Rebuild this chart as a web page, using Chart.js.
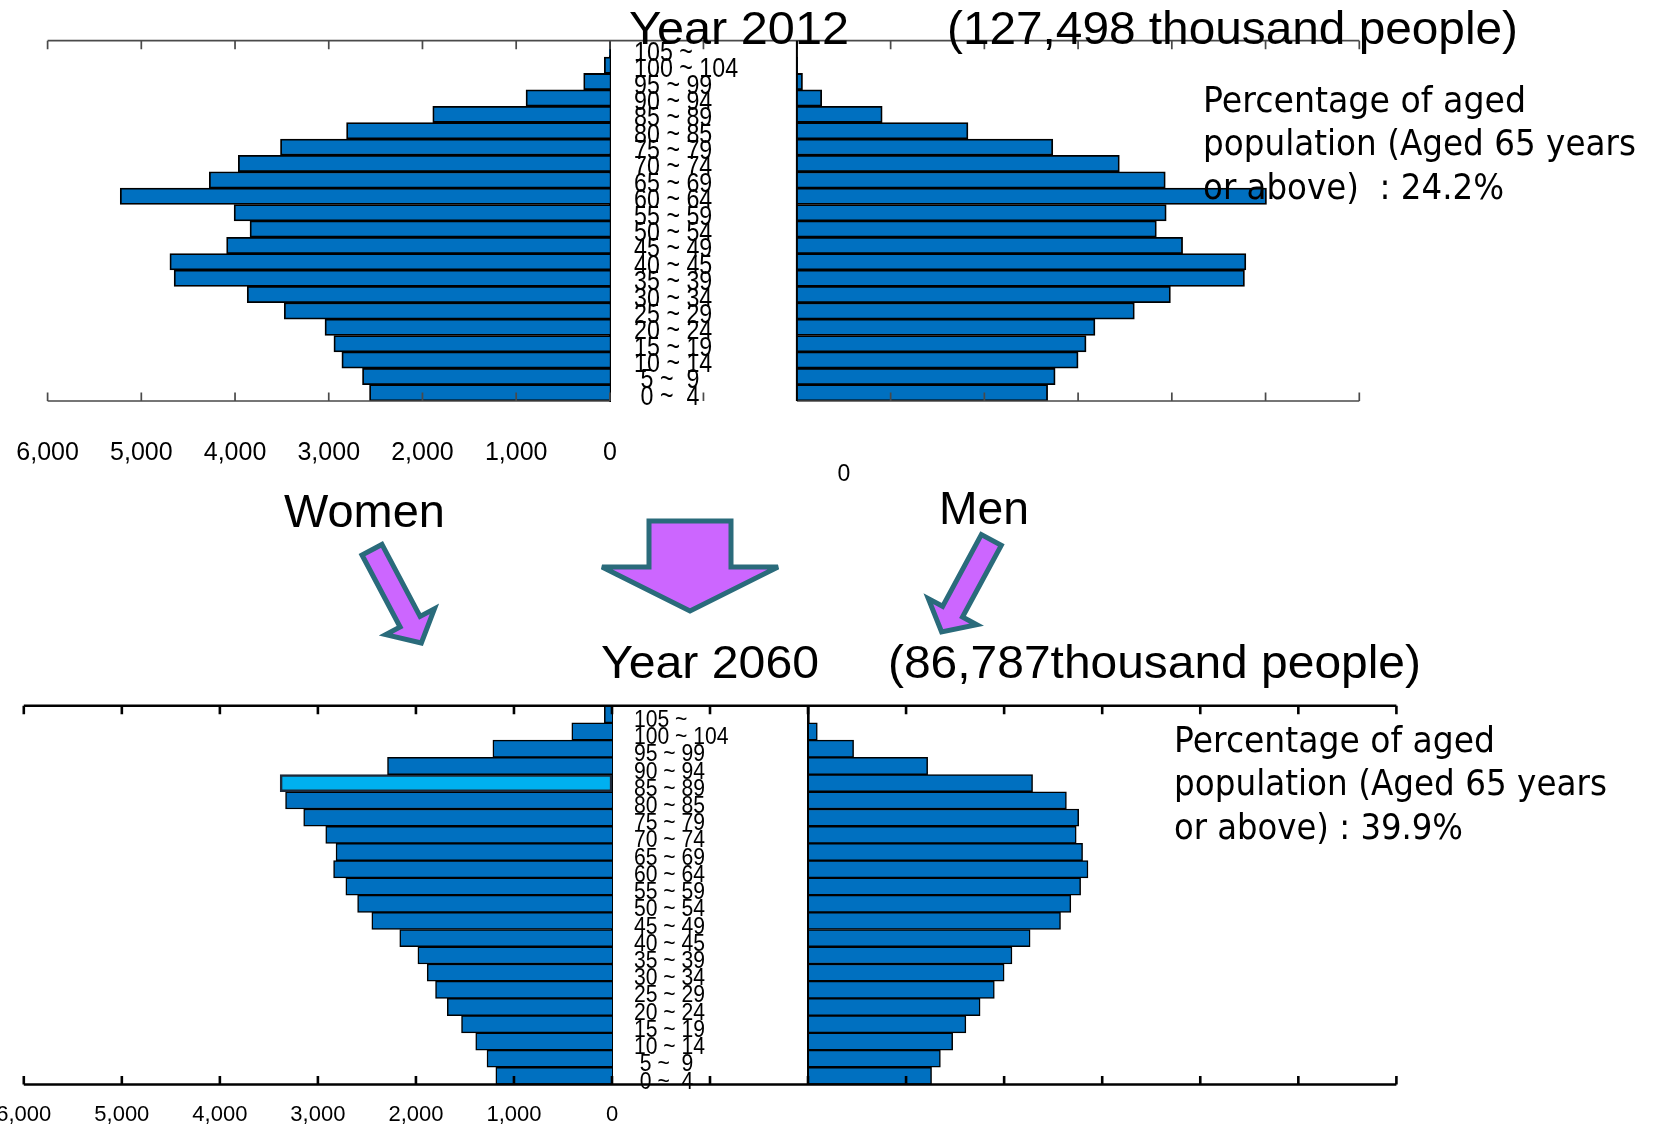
<!DOCTYPE html>
<html>
<head>
<meta charset="utf-8">
<script src="https://cdn.jsdelivr.net/npm/chart.js@4.4.1/dist/chart.umd.min.js"></script>
<style>
  html, body { margin: 0; padding: 0; background: #fff; width: 1662px; height: 1131px; overflow: hidden; }
  canvas { position: absolute; }
  #overlay { position: absolute; left: 0; top: 0; z-index: 5; pointer-events: none; }
  #overlay text { white-space: pre; }
</style>
</head>
<body>
<canvas id="w2012" width="797" height="490" style="left:0px;top:0px"></canvas>
<canvas id="m2012" width="620" height="490" style="left:780px;top:0px"></canvas>
<canvas id="w2060" width="808" height="451" style="left:0px;top:680px"></canvas>
<canvas id="m2060" width="620" height="451" style="left:790px;top:680px"></canvas>

<svg id="overlay" width="1662" height="1131" xmlns="http://www.w3.org/2000/svg">
  <g font-family="'Liberation Sans', Arial, sans-serif" font-size="47" fill="#000">
    <text x="629" y="44" textLength="220" lengthAdjust="spacingAndGlyphs">Year 2012</text>
    <text x="947" y="44" textLength="571" lengthAdjust="spacingAndGlyphs">(127,498 thousand people)</text>
    <text x="284" y="527" textLength="161" lengthAdjust="spacingAndGlyphs">Women</text>
    <text x="939" y="524" textLength="90" lengthAdjust="spacingAndGlyphs">Men</text>
    <text x="601" y="678" textLength="218" lengthAdjust="spacingAndGlyphs">Year 2060</text>
    <text x="888" y="678" textLength="533" lengthAdjust="spacingAndGlyphs">(86,787thousand people)</text>
  </g>
  <g font-family="'DejaVu Sans', sans-serif" font-size="35" fill="#000">
    <text x="1203" y="112" textLength="323" lengthAdjust="spacingAndGlyphs">Percentage of aged</text>
    <text x="1203" y="155" textLength="433" lengthAdjust="spacingAndGlyphs">population (Aged 65 years</text>
    <text x="1203" y="199" textLength="301" lengthAdjust="spacingAndGlyphs">or above)  : 24.2%</text>
    <text x="1174" y="752" textLength="321" lengthAdjust="spacingAndGlyphs">Percentage of aged</text>
    <text x="1174" y="795" textLength="433" lengthAdjust="spacingAndGlyphs">population (Aged 65 years</text>
    <text x="1174" y="839" textLength="289" lengthAdjust="spacingAndGlyphs">or above) : 39.9%</text>
  </g>
  <text x="844" y="481" font-family="'Liberation Sans', Arial, sans-serif" font-size="23" text-anchor="middle" fill="#000">0</text>

  <!-- arrows: big one between the two pyramids, small ones under the sex labels -->
  <g fill="#CC66FF" stroke="#2A6B7B" stroke-width="5" stroke-linejoin="miter">
    <polygon points="649,521 731,521 731,567 778,567 690,611 602,567 649,567"/>
    <polygon transform="translate(370.8,547.5) rotate(62.1)"
             points="2.5,-11.3 84,-11.3 84,-27.5 108,0 84,27.5 84,11.3 2.5,11.3"/>
    <polygon transform="translate(992.5,537.8) rotate(118.4)"
             points="2.5,-11.3 84,-11.3 84,-27.5 107,0 84,27.5 84,11.3 2.5,11.3"/>
  </g>
</svg>

<script>
// Age groups, youngest first (labels kept as printed on the chart)
const ageLabels = [' 0 ~  4', ' 5 ~  9', '10 ~ 14', '15 ~ 19', '20 ~ 24', '25 ~ 29',
  '30 ~ 34', '35 ~ 39', '40 ~ 45', '45 ~ 49', '50 ~ 54', '55 ~ 59', '60 ~ 64',
  '65 ~ 69', '70 ~ 74', '75 ~ 79', '80 ~ 85', '85 ~ 89', '90 ~ 94', '95 ~ 99',
  '100 ~ 104', '105 ~'];

// Population in thousands
const women2012 = [2565, 2640, 2860, 2945, 3040, 3475, 3870, 4650, 4695, 4090, 3840,
  4010, 5225, 4275, 3965, 3515, 2810, 1890, 895, 280, 60, 5];
const men2012 = [2675, 2755, 3000, 3085, 3180, 3600, 3985, 4775, 4790, 4115, 3835,
  3940, 5010, 3930, 3440, 2730, 1825, 910, 265, 60, 8, 1];
const women2060 = [1185, 1275, 1390, 1535, 1680, 1800, 1885, 1980, 2165, 2450, 2595,
  2715, 2840, 2815, 2920, 3145, 3330, 3385, 2290, 1215, 410, 78];
const men2060 = [1260, 1350, 1475, 1610, 1755, 1900, 2000, 2080, 2265, 2575, 2680,
  2780, 2855, 2800, 2735, 2760, 2635, 2290, 1220, 465, 95, 15];

// Value axis ticks
const tickValues = [0, 1000, 2000, 3000, 4000, 5000, 6000];
const tickLabels = ['0', '1,000', '2,000', '3,000', '4,000', '5,000', '6,000'];

const highlightGroup = '85 ~ 89';

const FONT = "'Liberation Sans', Arial, sans-serif";
Chart.defaults.font.family = FONT;
Chart.defaults.color = '#000';

const barBlue = '#0070C0';
const lightBlue = '#00B0F0';

// Axis frame: top/bottom lines with inward tick marks, gap line and zero line
const framePlugin = {
  id: 'frame',
  afterDatasetsDraw(chart, _args, o) {
    const { ctx, chartArea: a } = chart;
    const x = chart.scales.x;
    ctx.save();
    ctx.strokeStyle = o.color;
    ctx.lineWidth = o.width;
    ctx.beginPath();
    ctx.moveTo(a.left, a.top);
    ctx.lineTo(o.gapTop ? chart.width : a.right, a.top);
    ctx.moveTo(a.left, a.bottom);
    ctx.lineTo(o.gapBottom ? chart.width : a.right, a.bottom);
    tickValues.forEach(v => {
      const p = x.getPixelForValue(v);
      ctx.moveTo(p, a.top); ctx.lineTo(p, a.top + o.tick);
      ctx.moveTo(p, a.bottom); ctx.lineTo(p, a.bottom - o.tick);
    });
    if (o.midTick) {
      const m = (a.right + chart.width) / 2;
      ctx.moveTo(m, a.top); ctx.lineTo(m, a.top + o.tick);
      ctx.moveTo(m, a.bottom); ctx.lineTo(m, a.bottom - o.tick);
    }
    ctx.stroke();
    if (o.zeroLeft) {
      ctx.strokeStyle = '#000';
      ctx.lineWidth = 2;
      ctx.beginPath();
      ctx.moveTo(a.left, a.top);
      ctx.lineTo(a.left, a.bottom);
      ctx.stroke();
    }
    ctx.restore();
  }
};

// Age group names in the gap, placed by the category scale, in a narrow face
const agePlugin = {
  id: 'ages',
  afterDraw(chart, _args, o) {
    if (!o || !o.size) return;
    const { ctx, chartArea: a } = chart;
    const y = chart.scales.y;
    ctx.save();
    ctx.fillStyle = '#000';
    ctx.font = o.size + 'px ' + FONT;
    ctx.textAlign = 'left';
    ctx.textBaseline = 'middle';
    chart.data.labels.forEach((lab, i) => {
      const py = y.getPixelForValue(i) + o.offset;
      ctx.save();
      ctx.translate(a.right + o.pad, py);
      ctx.scale(o.squeeze, 1);
      ctx.fillText(lab, 0, 0);
      ctx.restore();
    });
    ctx.restore();
  }
};

function pyramid(id, side, values, cfg) {
  const isW = side === 'W';
  const hit = i => cfg.highlight && ageLabels[i] === highlightGroup;
  return new Chart(document.getElementById(id), {
    type: 'bar',
    data: {
      labels: ageLabels,
      datasets: [{
        data: values,
        backgroundColor: values.map((_, i) => hit(i) ? lightBlue : barBlue),
        borderColor: values.map((_, i) => hit(i) ? '#1E2A3A' : '#000'),
        borderWidth: values.map((_, i) => hit(i) ? 2.5 : cfg.bw),
        borderSkipped: values.map((_, i) => hit(i) ? false : 'start'),
        barPercentage: 1,
        categoryPercentage: 1
      }]
    },
    options: {
      indexAxis: 'y',
      responsive: false,
      animation: false,
      devicePixelRatio: 1,
      layout: { padding: cfg.pad },
      scales: {
        x: {
          type: 'linear', min: 0, max: 6000, reverse: isW, display: isW, position: 'bottom',
          grid: { display: false, drawTicks: false },
          border: { display: false },
          afterBuildTicks: s => { s.ticks = tickValues.map(v => ({ value: v })); },
          afterFit: s => {
            if (!isW) return;
            s.height = cfg.axisH; s.paddingLeft = 0; s.paddingRight = 0;
          },
          ticks: {
            autoSkip: false, maxRotation: 0, color: '#000',
            font: { size: cfg.tickSize || 12 },
            padding: cfg.tickPad || 0,
            callback: v => tickLabels[tickValues.indexOf(v)]
          }
        },
        y: {
          type: 'category', reverse: true, position: 'right', display: isW,
          grid: { display: false, drawTicks: false },
          border: { display: true, color: '#000', width: 2 },
          afterFit: s => {
            if (!isW) return;
            s.width = cfg.gapW; s.paddingTop = 0; s.paddingBottom = 0;
          },
          ticks: { display: false, autoSkip: false }
        }
      },
      plugins: {
        legend: { display: false },
        tooltip: { enabled: false },
        frame: cfg.frame,
        ages: cfg.ages || {}
      }
    },
    plugins: [framePlugin, agePlugin]
  });
}

// Year 2012
pyramid('w2012', 'W', women2012, {
  bw: 1.8,
  pad: { left: 47.6, top: 40.7, right: 0, bottom: 0 },
  axisH: 89, gapW: 187.1, tickSize: 25, tickPad: 37.5,
  ages: { size: 27, squeeze: 0.86, pad: 24.2, offset: 4.5 },
  frame: { color: '#4a4a4a', width: 1.7, tick: 8.5, gapTop: true, gapBottom: false, midTick: true }
});
pyramid('m2012', 'M', men2012, {
  bw: 1.8,
  pad: { left: 16.9, top: 40.7, right: 40.7, bottom: 89 },
  frame: { color: '#4a4a4a', width: 1.7, tick: 8.5, zeroLeft: true }
});

// Year 2060
pyramid('w2060', 'W', women2060, {
  bw: 1.5, highlight: true,
  pad: { left: 23.8, top: 25.7, right: 0, bottom: 0 },
  axisH: 46.5, gapW: 196, tickSize: 22, tickPad: 17,
  ages: { size: 24, squeeze: 0.88, pad: 22, offset: 6 },
  frame: { color: '#000', width: 2.6, tick: 8.5, gapTop: true, gapBottom: true, midTick: true }
});
pyramid('m2060', 'M', men2060, {
  bw: 1.5,
  pad: { left: 18, top: 25.7, right: 13.6, bottom: 46.5 },
  frame: { color: '#000', width: 2.6, tick: 8.5, zeroLeft: true }
});
</script>
</body>
</html>
